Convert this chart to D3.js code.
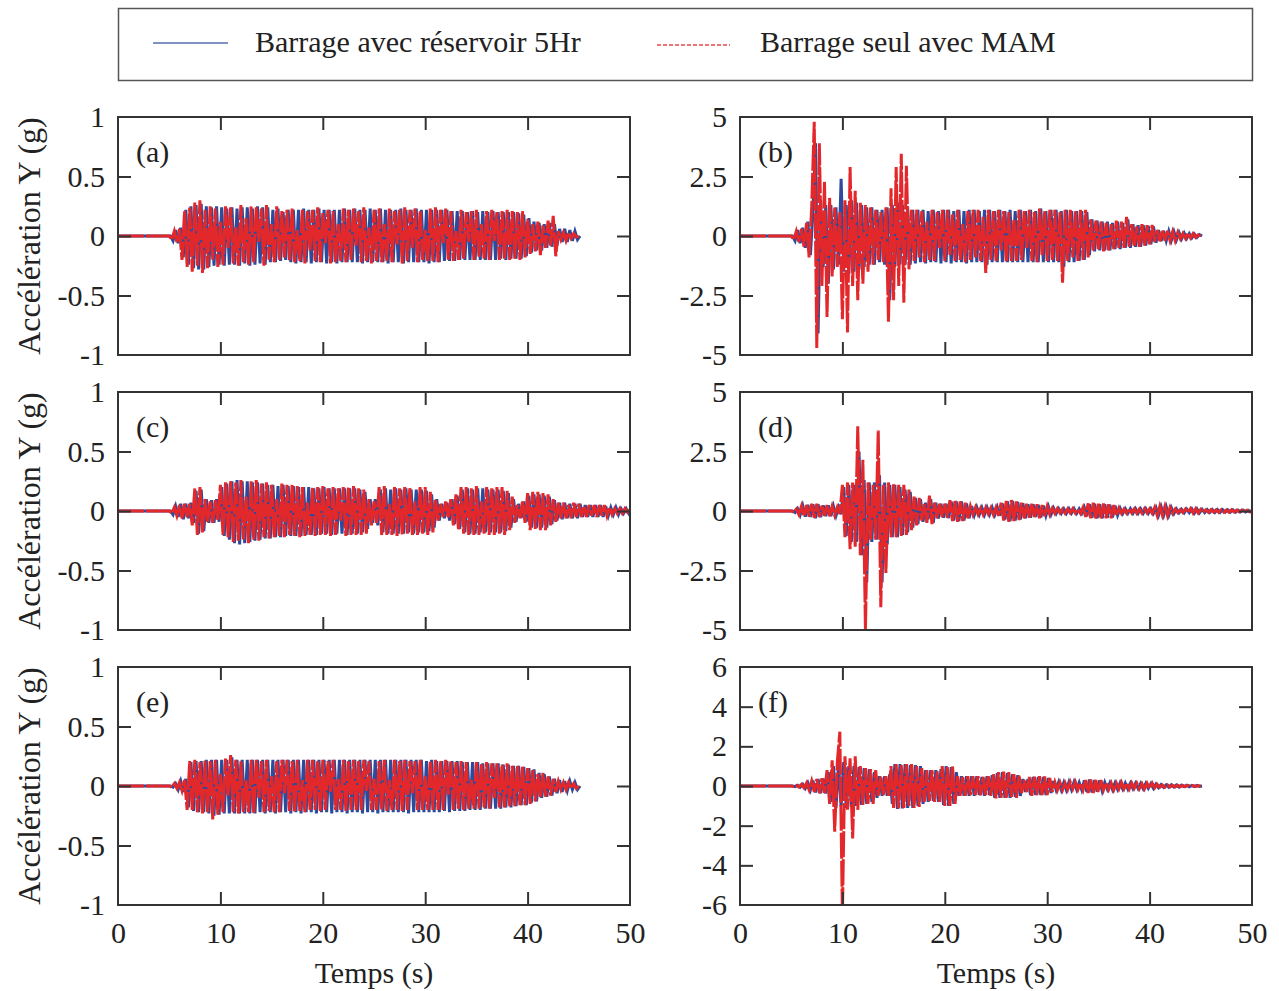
<!DOCTYPE html>
<html>
<head>
<meta charset="utf-8">
<script src="https://cdn.jsdelivr.net/npm/d3@7"></script>
<style>
  body { margin: 0; background: #fff; }
  svg { display: block; }
  text { font-family: "Liberation Serif", "Times New Roman", serif; fill: #222; }
</style>
</head>
<body>
<script>
// time axis of the records: flat zero until 5 s, then one peak every 0.25 s
var T0 = 5;
var DT = 0.25;
var BLUE_T0 = 5.125;

var xTicks = [0, 10, 20, 30, 40, 50];
var yTicksG = [-1, -0.5, 0, 0.5, 1];
var yTicksB = [-5, -2.5, 0, 2.5, 5];
var yTicksF = [-6, -4, -2, 0, 2, 4, 6];
var panelLabels = ['(a)', '(b)', '(c)', '(d)', '(e)', '(f)'];
var legendLabels = ['Barrage avec réservoir 5Hr', 'Barrage seul avec MAM'];

// (a) peaks, one row = 2 s starting at 5 s
var aBlue = [
  0, -0.04, 0.05, -0.06, 0.07, -0.18, 0.22, -0.24,
  0.25, -0.27, 0.26, -0.28, 0.27, -0.28, 0.25, -0.26,
  0.24, -0.25, 0.25, -0.24, 0.24, -0.25, 0.23, -0.24,
  0.24, -0.24, 0.23, -0.25, 0.24, -0.23, 0.24, -0.25,
  0.23, -0.24, 0.25, -0.23, 0.24, -0.24, 0.24, -0.22,
  0.22, -0.22, 0.23, -0.21, 0.2, -0.2, 0.22, -0.22,
  0.22, -0.23, 0.22, -0.22, 0.23, -0.22, 0.22, -0.23,
  0.22, -0.22, 0.23, -0.22, 0.22, -0.23, 0.22, -0.22,
  0.22, -0.23, 0.22, -0.22, 0.23, -0.22, 0.22, -0.22,
  0.23, -0.22, 0.22, -0.23, 0.22, -0.22, 0.23, -0.22,
  0.22, -0.22, 0.23, -0.22, 0.22, -0.23, 0.22, -0.22,
  0.22, -0.22, 0.23, -0.23, 0.22, -0.22, 0.22, -0.22,
  0.23, -0.22, 0.22, -0.22, 0.22, -0.23, 0.22, -0.22,
  0.22, -0.22, 0.22, -0.21, 0.22, -0.21, 0.21, -0.21,
  0.21, -0.2, 0.21, -0.2, 0.2, -0.2, 0.21, -0.2,
  0.2, -0.2, 0.21, -0.2, 0.2, -0.2, 0.21, -0.2,
  0.2, -0.19, 0.2, -0.2, 0.2, -0.19, 0.2, -0.19,
  0.19, -0.19, 0.18, -0.17, 0.15, -0.14, 0.12, -0.12,
  0.11, -0.12, 0.1, -0.1, 0.11, -0.09, 0.1, -0.08,
  0.06, -0.05, 0.06, -0.05, 0.05, -0.04, 0.04, -0.03,
  0
];
var aRed = [
  0, -0.03, 0.04, -0.05, 0.06, -0.2, 0.21, -0.26,
  0.24, -0.3, 0.28, -0.25, 0.3, -0.31, 0.22, -0.27,
  0.25, -0.2, 0.23, -0.26, 0.12, -0.24, 0.25, -0.1,
  0.24, -0.23, 0.08, -0.25, 0.26, -0.22, 0.15, -0.24,
  0.25, -0.22, 0.24, -0.05, 0.23, -0.25, 0.26, -0.2,
  0.1, -0.22, 0.25, -0.2, 0.21, -0.18, 0.22, -0.21,
  0.23, -0.22, 0.05, -0.21, 0.22, -0.23, 0.21, -0.12,
  0.22, -0.21, 0.24, -0.22, 0.2, -0.06, 0.22, -0.23,
  0.21, -0.22, 0.1, -0.21, 0.23, -0.22, 0.22, -0.2,
  0.23, -0.08, 0.21, -0.22, 0.24, -0.21, 0.07, -0.23,
  0.22, -0.21, 0.23, -0.22, 0.1, -0.21, 0.23, -0.22,
  0.21, -0.07, 0.22, -0.23, 0.24, -0.21, 0.22, -0.1,
  0.23, -0.22, 0.21, -0.2, 0.05, -0.22, 0.23, -0.21,
  0.24, -0.22, 0.22, -0.06, 0.23, -0.2, 0.21, -0.21,
  0.04, -0.2, 0.22, -0.19, 0.2, -0.05, 0.21, -0.2,
  0.22, -0.18, 0.1, -0.19, 0.21, -0.2, 0.22, -0.04,
  0.2, -0.2, 0.21, -0.19, 0.22, -0.2, 0.21, -0.19,
  0.2, -0.2, 0.21, -0.18, 0.14, -0.15, 0.1, -0.13,
  0.12, -0.16, 0.09, -0.1, 0.13, -0.08, 0.17, -0.17,
  0.04, -0.03, 0.03, -0.04, 0.03, -0.02, 0.02, -0.01,
  0
];

// (b)
var bBlue = [
  0, -0.2, 0.25, -0.3, 0.35, -0.5, 0.6, -0.8,
  1.0, 3.9, -4.1, 1.5, -1.3, 1.3, -2.0, 1.3,
  -1.4, 1.2, -1.2, 2.4, -1.5, 1.3, -1.6, 1.5,
  -1.5, 1.4, -1.4, 1.3, -1.3, 1.2, -1.2, 1.2,
  -1.2, 1.1, -1.1, 1.1, -1.2, 1.2, -2.7, 1.3,
  -1.3, 1.4, -1.2, 1.3, -1.2, 1.2, -1.2, 1.1,
  -1.15, 1.1, -1.1, 1.1, -1.15, 1.05, -1.1, 1.1,
  -1.1, 1.05, -1.15, 1.1, -1.1, 1.1, -1.15, 1.05,
  -1.1, 1.1, -1.1, 1.05, -1.15, 1.1, -1.1, 1.1,
  -1.1, 1.05, -1.1, 1.1, -1.2, 1.1, -1.1, 1.05,
  -1.1, 1.1, -1.1, 1.05, -1.1, 1.1, -1.1, 1.05,
  -1.1, 1.1, -1.1, 1.05, -1.1, 1.1, -1.1, 1.05,
  -1.1, 1.15, -1.1, 1.05, -1.1, 1.1, -1.1, 1.1,
  -1.1, 1.05, -1.3, 1.1, -1.1, 1.05, -1.1, 1.05,
  -1.05, 1.05, -1.0, 1.0, -0.8, 0.7, -0.65, 0.65,
  -0.6, 0.6, -0.6, 0.6, -0.6, 0.55, -0.55, 0.6,
  -0.55, 0.55, -0.5, 0.7, -0.5, 0.5, -0.45, 0.45,
  -0.45, 0.45, -0.4, 0.42, -0.35, 0.4, -0.28, 0.25,
  -0.22, 0.22, -0.2, 0.2, -0.18, 0.18, -0.16, 0.15,
  -0.12, 0.12, -0.1, 0.1, -0.08, 0.08, -0.06, 0.06,
  0
];
var bRed = [
  0, -0.15, 0.2, -0.25, 0.3, -0.45, 0.55, -0.9,
  1.2, 4.8, -4.7, 3.9, -2.1, 2.3, -3.4, 1.6,
  -1.7, 1.2, -1.3, 1.0, -3.5, 1.5, -4.05, 2.9,
  -2.1, 1.9, -2.7, 1.4, -2.0, 1.3, -1.5, 1.2,
  -1.2, 1.1, -1.0, 1.0, -1.1, 1.2, -3.6, 2.0,
  -2.7, 2.9, -2.1, 3.45, -2.8, 2.95, -1.4, 1.1,
  -1.05, 1.1, -0.9, 1.05, -1.1, 0.6, -1.0, 1.1,
  -1.05, 1.0, -0.5, 1.1, -1.05, 1.1, -0.8, 0.9,
  -1.05, 1.1, -1.0, 0.5, -1.1, 1.05, -1.0, 1.1,
  -0.9, 1.1, -1.05, 0.8, -1.55, 1.1, -1.0, 1.05,
  -1.05, 1.1, -0.6, 1.05, -1.1, 1.0, -1.05, 0.7,
  -1.05, 1.1, -1.0, 1.05, -0.5, 1.1, -1.05, 1.0,
  -1.1, 1.15, -0.8, 1.05, -1.05, 1.1, -1.0, 1.1,
  -1.05, 1.0, -1.96, 1.1, -1.05, 1.1, -0.9, 1.05,
  -1.05, 1.1, -1.0, 1.1, -0.9, 0.7, -0.6, 0.65,
  -0.55, 0.6, -0.65, 0.55, -0.6, 0.5, -0.55, 0.65,
  -0.5, 0.6, -0.5, 0.8, -0.45, 0.5, -0.45, 0.4,
  -0.45, 0.5, -0.4, 0.45, -0.35, 0.46, -0.25, 0.25,
  -0.22, 0.25, -0.2, 0.22, -0.2, 0.18, -0.2, 0.15,
  -0.12, 0.1, -0.1, 0.12, -0.08, 0.1, -0.06, 0.05,
  0
];

// (c) runs to 50 s
var cBlue = [
  0, -0.03, 0.04, -0.05, 0.06, -0.07, 0.06, -0.06,
  0.07, -0.1, 0.17, -0.19, 0.18, -0.17, 0.1, -0.1,
  0.09, -0.1, 0.1, -0.09, 0.2, -0.21, 0.23, -0.24,
  0.25, -0.27, 0.26, -0.28, 0.25, -0.27, 0.25, -0.26,
  0.24, -0.25, 0.24, -0.24, 0.23, -0.23, 0.22, -0.23,
  0.22, -0.22, 0.21, -0.22, 0.22, -0.21, 0.21, -0.21,
  0.21, -0.21, 0.2, -0.21, 0.2, -0.2, 0.2, -0.2,
  0.19, -0.2, 0.19, -0.19, 0.2, -0.19, 0.19, -0.2,
  0.19, -0.19, 0.19, -0.19, 0.19, -0.2, 0.19, -0.19,
  0.19, -0.19, 0.18, -0.18, 0.16, -0.15, 0.1, -0.1,
  0.1, -0.12, 0.18, -0.18, 0.19, -0.19, 0.18, -0.19,
  0.19, -0.19, 0.18, -0.19, 0.19, -0.18, 0.18, -0.19,
  0.18, -0.18, 0.18, -0.18, 0.17, -0.17, 0.14, -0.14,
  0.1, -0.08, 0.06, -0.06, 0.07, -0.08, 0.1, -0.11,
  0.13, -0.15, 0.18, -0.18, 0.19, -0.19, 0.18, -0.19,
  0.19, -0.18, 0.19, -0.18, 0.18, -0.18, 0.18, -0.18,
  0.18, -0.18, 0.17, -0.17, 0.15, -0.14, 0.1, -0.09,
  0.06, -0.06, 0.08, -0.09, 0.13, -0.14, 0.14, -0.14,
  0.14, -0.14, 0.13, -0.14, 0.12, -0.11, 0.09, -0.08,
  0.07, -0.07, 0.07, -0.06, 0.06, -0.06, 0.06, -0.06,
  0.06, -0.05, 0.05, -0.05, 0.05, -0.05, 0.05, -0.05,
  0.05, -0.05, 0.04, -0.04, 0.03, -0.03, 0.03, -0.03,
  0.02, -0.02, 0.02, -0.02, 0.02, -0.01, 0.01, -0.01,
  0
];
var cRed = [
  0, -0.02, 0.03, -0.04, 0.05, -0.06, 0.06, -0.05,
  0.06, -0.12, 0.19, -0.2, 0.2, -0.18, 0.1, -0.09,
  0.08, -0.1, 0.09, -0.08, 0.22, -0.2, 0.24, -0.22,
  0.25, -0.26, 0.24, -0.25, 0.26, -0.24, 0.12, -0.27,
  0.25, -0.24, 0.26, -0.25, 0.23, -0.22, 0.24, -0.23,
  0.22, -0.22, 0.1, -0.21, 0.23, -0.22, 0.22, -0.2,
  0.22, -0.21, 0.21, -0.22, 0.2, -0.21, 0.07, -0.2,
  0.2, -0.21, 0.2, -0.2, 0.21, -0.2, 0.19, -0.21,
  0.2, -0.2, 0.19, -0.08, 0.2, -0.21, 0.2, -0.2,
  0.21, -0.2, 0.19, -0.2, 0.18, -0.19, 0.1, -0.12,
  0.08, -0.1, 0.2, -0.2, 0.21, -0.2, 0.06, -0.2,
  0.2, -0.21, 0.19, -0.2, 0.2, -0.19, 0.2, -0.2,
  0.08, -0.2, 0.2, -0.19, 0.2, -0.2, 0.16, -0.18,
  0.1, -0.08, 0.06, -0.05, 0.08, -0.06, 0.1, -0.12,
  0.14, -0.16, 0.2, -0.19, 0.2, -0.2, 0.19, -0.2,
  0.21, -0.2, 0.08, -0.19, 0.2, -0.2, 0.19, -0.2,
  0.2, -0.19, 0.2, -0.2, 0.17, -0.16, 0.12, -0.1,
  0.05, -0.06, 0.08, -0.1, 0.15, -0.16, 0.16, -0.15,
  0.16, -0.16, 0.15, -0.16, 0.14, -0.12, 0.1, -0.09,
  0.07, -0.06, 0.07, -0.06, 0.05, -0.06, 0.07, -0.05,
  0.06, -0.05, 0.04, -0.05, 0.05, -0.04, 0.05, -0.05,
  0.05, -0.04, 0.05, -0.04, 0.03, -0.03, 0.02, -0.02,
  0.02, -0.02, 0.02, -0.01, 0.01, -0.01, 0.01, -0.01,
  0
];

// (d) runs to 50 s
var dBlue = [
  0, -0.06, 0.1, -0.16, 0.22, -0.24, 0.26, -0.25,
  0.28, -0.3, 0.28, -0.26, 0.24, -0.22, 0.24, -0.22,
  0.2, -0.2, 0.16, -0.14, 1.0, -1.05, 1.1, -1.3,
  1.1, -1.3, 2.5, -1.86, 1.3, -3.0, 1.2, -1.3,
  1.2, -1.2, 1.5, -3.0, 1.2, -1.4, 1.1, -1.1,
  1.1, -1.1, 1.0, -1.0, 0.9, -0.9, 0.8, -0.7,
  0.55, -0.55, 0.5, -0.45, 0.35, -0.35, 0.5, -0.5,
  0.35, -0.32, 0.3, -0.28, 0.3, -0.3, 0.4, -0.4,
  0.4, -0.42, 0.4, -0.4, 0.32, -0.3, 0.2, -0.18,
  0.16, -0.15, 0.14, -0.16, 0.15, -0.14, 0.15, -0.16,
  0.16, -0.2, 0.32, -0.36, 0.4, -0.42, 0.42, -0.4,
  0.38, -0.36, 0.33, -0.3, 0.28, -0.28, 0.28, -0.25,
  0.26, -0.27, 0.23, -0.2, 0.18, -0.15, 0.12, -0.11,
  0.1, -0.1, 0.09, -0.1, 0.1, -0.09, 0.1, -0.1,
  0.09, -0.1, 0.15, -0.22, 0.28, -0.28, 0.3, -0.3,
  0.28, -0.3, 0.28, -0.28, 0.26, -0.27, 0.22, -0.18,
  0.12, -0.11, 0.1, -0.1, 0.1, -0.1, 0.1, -0.1,
  0.09, -0.1, 0.1, -0.1, 0.1, -0.1, 0.14, -0.18,
  0.18, -0.18, 0.18, -0.18, 0.14, -0.11, 0.09, -0.08,
  0.07, -0.08, 0.08, -0.07, 0.09, -0.09, 0.09, -0.08,
  0.07, -0.07, 0.06, -0.06, 0.06, -0.06, 0.06, -0.06,
  0.06, -0.05, 0.05, -0.05, 0.05, -0.05, 0.04, -0.04,
  0.04, -0.04, 0.03, -0.03, 0.03, -0.02, 0.02, -0.02,
  0
];
var dRed = [
  0, -0.05, 0.08, -0.15, 0.2, -0.22, 0.25, -0.24,
  0.3, -0.28, 0.3, -0.25, 0.22, -0.2, 0.25, -0.22,
  0.2, -0.18, 0.15, -0.12, 1.1, -1.1, 1.2, -1.6,
  1.2, -1.5, 3.56, -1.86, 2.15, -5.0, 1.2, -1.2,
  1.1, -1.2, 3.38, -4.04, 1.1, -2.6, 1.2, -1.1,
  1.15, -1.1, 1.1, -1.05, 1.1, -1.0, 0.9, -0.8,
  0.6, -0.6, 0.55, -0.4, 0.3, -0.5, 0.65, -0.55,
  0.35, -0.3, 0.3, -0.25, 0.3, -0.28, 0.45, -0.42,
  0.45, -0.45, 0.4, -0.42, 0.35, -0.3, 0.2, -0.15,
  0.15, -0.14, 0.12, -0.15, 0.14, -0.12, 0.13, -0.15,
  0.15, -0.2, 0.35, -0.4, 0.42, -0.45, 0.46, -0.42,
  0.4, -0.38, 0.35, -0.3, 0.3, -0.28, 0.3, -0.25,
  0.28, -0.3, 0.25, -0.22, 0.2, -0.15, 0.12, -0.1,
  0.1, -0.08, 0.08, -0.1, 0.09, -0.08, 0.1, -0.09,
  0.08, -0.1, 0.15, -0.25, 0.32, -0.3, 0.35, -0.32,
  0.3, -0.33, 0.32, -0.3, 0.28, -0.3, 0.25, -0.2,
  0.12, -0.1, 0.08, -0.09, 0.1, -0.08, 0.09, -0.1,
  0.08, -0.09, 0.1, -0.08, 0.09, -0.1, 0.15, -0.2,
  0.2, -0.18, 0.2, -0.2, 0.15, -0.1, 0.08, -0.07,
  0.06, -0.07, 0.08, -0.06, 0.1, -0.09, 0.1, -0.08,
  0.07, -0.06, 0.05, -0.06, 0.06, -0.05, 0.05, -0.06,
  0.06, -0.05, 0.04, -0.05, 0.05, -0.04, 0.04, -0.04,
  0.04, -0.03, 0.03, -0.03, 0.02, -0.02, 0.02, -0.01,
  0
];

// (e)
var eBlue = [
  0, -0.01, 0.02, -0.03, 0.04, -0.05, 0.06, -0.18,
  0.2, -0.21, 0.21, -0.22, 0.21, -0.22, 0.22, -0.23,
  0.22, -0.25, 0.22, -0.24, 0.22, -0.23, 0.22, -0.23,
  0.24, -0.23, 0.22, -0.23, 0.22, -0.23, 0.22, -0.23,
  0.22, -0.23, 0.22, -0.22, 0.22, -0.23, 0.22, -0.22,
  0.22, -0.23, 0.22, -0.22, 0.22, -0.22, 0.22, -0.23,
  0.22, -0.22, 0.22, -0.23, 0.22, -0.22, 0.22, -0.22,
  0.22, -0.23, 0.22, -0.22, 0.22, -0.22, 0.22, -0.23,
  0.22, -0.22, 0.22, -0.22, 0.22, -0.23, 0.22, -0.22,
  0.22, -0.22, 0.22, -0.23, 0.22, -0.22, 0.22, -0.22,
  0.22, -0.23, 0.22, -0.22, 0.22, -0.22, 0.22, -0.22,
  0.22, -0.22, 0.22, -0.22, 0.22, -0.23, 0.22, -0.22,
  0.22, -0.22, 0.22, -0.22, 0.21, -0.22, 0.22, -0.22,
  0.21, -0.22, 0.21, -0.21, 0.21, -0.22, 0.21, -0.21,
  0.21, -0.21, 0.2, -0.21, 0.2, -0.2, 0.2, -0.2,
  0.2, -0.2, 0.19, -0.19, 0.19, -0.19, 0.19, -0.19,
  0.19, -0.19, 0.18, -0.18, 0.18, -0.18, 0.17, -0.17,
  0.17, -0.16, 0.16, -0.16, 0.15, -0.14, 0.14, -0.13,
  0.11, -0.1, 0.1, -0.09, 0.08, -0.08, 0.06, -0.06,
  0.05, -0.05, 0.04, -0.04, 0.04, -0.03, 0.03, -0.03,
  0
];
var eRed = [
  0, -0.01, 0.02, -0.02, 0.03, -0.04, 0.05, -0.2,
  0.21, -0.2, 0.22, -0.22, 0.2, -0.23, 0.22, -0.22,
  0.21, -0.28, 0.22, -0.24, 0.1, -0.22, 0.23, -0.08,
  0.26, -0.22, 0.22, -0.23, 0.21, -0.22, 0.05, -0.22,
  0.22, -0.23, 0.22, -0.1, 0.21, -0.22, 0.22, -0.21,
  0.08, -0.22, 0.21, -0.22, 0.22, -0.06, 0.22, -0.21,
  0.21, -0.22, 0.22, -0.21, 0.05, -0.22, 0.22, -0.2,
  0.22, -0.2, 0.21, -0.21, 0.22, -0.2, 0.21, -0.05,
  0.22, -0.2, 0.06, -0.2, 0.22, -0.21, 0.21, -0.2,
  0.22, -0.2, 0.21, -0.2, 0.22, -0.04, 0.21, -0.2,
  0.06, -0.2, 0.21, -0.2, 0.22, -0.21, 0.05, -0.2,
  0.22, -0.2, 0.21, -0.21, 0.22, -0.2, 0.21, -0.06,
  0.21, -0.2, 0.22, -0.2, 0.08, -0.2, 0.21, -0.2,
  0.22, -0.2, 0.21, -0.2, 0.22, -0.07, 0.21, -0.2,
  0.2, -0.19, 0.21, -0.2, 0.2, -0.19, 0.06, -0.19,
  0.2, -0.19, 0.19, -0.18, 0.2, -0.19, 0.19, -0.1,
  0.19, -0.18, 0.18, -0.18, 0.19, -0.17, 0.17, -0.17,
  0.17, -0.16, 0.16, -0.16, 0.15, -0.15, 0.14, -0.13,
  0.1, -0.1, 0.11, -0.09, 0.08, -0.08, 0.06, -0.05,
  0.04, -0.03, 0.03, -0.03, 0.03, -0.02, 0.02, -0.02,
  0
];

// (f)
var fBlue = [
  0, -0.03, 0.04, -0.06, 0.09, -0.12, 0.16, -0.2,
  0.28, -0.32, 0.35, -0.36, 0.38, -0.38, 0.7, -0.8,
  1.0, -1.1, 1.1, -1.0, 1.2, -1.1, 1.0, -1.05,
  1.0, -1.0, 0.95, -0.95, 0.9, -0.9, 0.85, -0.8,
  0.7, -0.6, 0.5, -0.5, 0.5, -0.5, 0.6, -0.9,
  1.1, -1.15, 1.1, -1.13, 1.1, -1.1, 1.05, -1.1,
  1.05, -1.0, 1.0, -0.9, 0.8, -0.8, 0.8, -0.75,
  0.8, -0.8, 0.85, -0.95, 1.0, -1.0, 0.95, -0.9,
  0.7, -0.5, 0.5, -0.5, 0.5, -0.5, 0.5, -0.5,
  0.5, -0.45, 0.45, -0.5, 0.5, -0.45, 0.55, -0.6,
  0.65, -0.6, 0.7, -0.6, 0.65, -0.6, 0.6, -0.55,
  0.55, -0.5, 0.35, -0.3, 0.35, -0.45, 0.45, -0.45,
  0.45, -0.45, 0.45, -0.45, 0.4, -0.35, 0.25, -0.2,
  0.2, -0.2, 0.18, -0.2, 0.2, -0.18, 0.2, -0.18,
  0.18, -0.2, 0.28, -0.3, 0.32, -0.32, 0.3, -0.28,
  0.28, -0.25, 0.18, -0.16, 0.16, -0.18, 0.16, -0.16,
  0.16, -0.15, 0.15, -0.15, 0.14, -0.14, 0.14, -0.13,
  0.13, -0.14, 0.13, -0.12, 0.12, -0.12, 0.1, -0.09,
  0.07, -0.07, 0.06, -0.06, 0.06, -0.05, 0.05, -0.05,
  0.05, -0.04, 0.04, -0.04, 0.03, -0.03, 0.03, -0.02,
  0
];
var fRed = [
  0, -0.02, 0.03, -0.05, 0.08, -0.1, 0.15, -0.2,
  0.25, -0.3, 0.35, -0.37, 0.39, -0.35, 0.8, -0.9,
  1.3, -2.3, 1.2, 2.74, -6.5, 1.5, -1.2, 1.4,
  -2.64, 1.5, -1.2, 1.0, -0.95, 0.9, -0.9, 0.85,
  -0.9, 0.8, -0.5, 0.5, -0.45, 0.5, -0.5, 1.0,
  -1.1, 1.1, -1.13, 1.05, -1.1, 1.1, -1.0, 1.1,
  -1.1, 1.0, -1.05, 0.9, -0.8, 0.8, -0.75, 0.8,
  -0.8, 0.75, -0.8, 1.0, -1.0, 0.95, -1.0, 1.0,
  -0.9, 0.5, -0.5, 0.45, -0.5, 0.5, -0.45, 0.5,
  -0.45, 0.5, -0.47, 0.45, -0.45, 0.5, -0.5, 0.6,
  -0.62, 0.7, -0.6, 0.72, -0.6, 0.7, -0.55, 0.6,
  -0.6, 0.55, -0.35, 0.3, -0.3, 0.45, -0.5, 0.47,
  -0.45, 0.5, -0.45, 0.48, -0.45, 0.4, -0.3, 0.2,
  -0.2, 0.18, -0.2, 0.15, -0.18, 0.2, -0.15, 0.2,
  -0.18, 0.15, -0.2, 0.3, -0.35, 0.32, -0.35, 0.3,
  -0.3, 0.3, -0.2, 0.15, -0.18, 0.15, -0.2, 0.15,
  -0.15, 0.18, -0.15, 0.14, -0.16, 0.15, -0.12, 0.15,
  -0.14, 0.12, -0.15, 0.14, -0.12, 0.15, -0.1, 0.08,
  -0.06, 0.05, -0.06, 0.05, -0.05, 0.04, -0.05, 0.04,
  -0.04, 0.03, -0.03, 0.03, -0.02, 0.02, -0.02, 0.01,
  0
];

var blueColor = '#2c4b9c';
var redColor = '#e3282c';
var axisColor = '#333';
var serif = '"Liberation Serif", "Times New Roman", serif';

var width = 1279, height = 991;
var plotW = 512, plotH = 238;
var colX = [118, 740];
var rowY = [117, 392, 667];

var panels = [
  { label: panelLabels[0], col: 0, row: 0, yTicks: yTicksG, blue: aBlue, red: aRed },
  { label: panelLabels[1], col: 1, row: 0, yTicks: yTicksB, blue: bBlue, red: bRed },
  { label: panelLabels[2], col: 0, row: 1, yTicks: yTicksG, blue: cBlue, red: cRed },
  { label: panelLabels[3], col: 1, row: 1, yTicks: yTicksB, blue: dBlue, red: dRed },
  { label: panelLabels[4], col: 0, row: 2, yTicks: yTicksG, blue: eBlue, red: eRed },
  { label: panelLabels[5], col: 1, row: 2, yTicks: yTicksF, blue: fBlue, red: fRed }
];

var svg = d3.select('body').append('svg')
  .attr('width', width)
  .attr('height', height);

// legend
var legend = svg.append('g');
legend.append('rect')
  .attr('x', 118.5).attr('y', 8.5)
  .attr('width', 1134).attr('height', 72)
  .attr('fill', 'none').attr('stroke', '#555').attr('stroke-width', 1.5);
legend.append('line')
  .attr('x1', 153).attr('x2', 228).attr('y1', 43).attr('y2', 43)
  .attr('stroke', blueColor).attr('stroke-width', 1.3).attr('opacity', 0.8);
legend.append('text')
  .attr('x', 255).attr('y', 52)
  .style('font-size', '30px')
  .text(legendLabels[0]);
legend.append('line')
  .attr('x1', 657).attr('x2', 730).attr('y1', 45).attr('y2', 45)
  .attr('stroke', redColor).attr('stroke-width', 1.3)
  .attr('stroke-dasharray', '4,2').attr('opacity', 0.85);
legend.append('text')
  .attr('x', 760).attr('y', 52)
  .style('font-size', '30px')
  .text(legendLabels[1]);

var fmt = function(d) { return String(d); };

var toPoints = function(values, t0) {
  return [[0, 0]].concat(values.map(function(v, i) { return [t0 + i * DT, v]; }));
};

panels.forEach(function(p, k) {
  var x0 = colX[p.col], y0 = rowY[p.row];
  var yExt = d3.extent(p.yTicks);
  var x = d3.scaleLinear().domain([0, 50]).range([0, plotW]);
  var y = d3.scaleLinear().domain(yExt).range([plotH, 0]);

  var g = svg.append('g').attr('transform', 'translate(' + x0 + ',' + y0 + ')');

  var clipId = 'clip-' + k;
  g.append('clipPath').attr('id', clipId)
    .append('rect').attr('width', plotW).attr('height', plotH);

  var line = d3.line()
    .x(function(d) { return x(d[0]); })
    .y(function(d) { return y(d[1]); });

  var lines = g.append('g').attr('clip-path', 'url(#' + clipId + ')');
  lines.append('path')
    .datum(toPoints(p.blue, BLUE_T0))
    .attr('d', line)
    .attr('fill', 'none')
    .attr('stroke', blueColor)
    .attr('stroke-width', 3);
  lines.append('path')
    .datum(toPoints(p.red, T0))
    .attr('d', line)
    .attr('fill', 'none')
    .attr('stroke', redColor)
    .attr('stroke-width', 3)
    .attr('stroke-dasharray', '26,2');

  // inward ticks on all four sides
  var inner = p.yTicks.slice(1, -1);
  var innerX = xTicks.slice(1, -1);

  var left = g.append('g').call(d3.axisLeft(y).tickValues(p.yTicks).tickFormat(fmt)
    .tickSizeInner(-13).tickSizeOuter(0).tickPadding(13));
  left.selectAll('.tick line').filter(function(d) { return inner.indexOf(d) < 0; }).remove();
  var right = g.append('g').attr('transform', 'translate(' + plotW + ',0)')
    .call(d3.axisRight(y).tickValues(inner).tickFormat('').tickSizeInner(-13).tickSizeOuter(0));
  var top = g.append('g')
    .call(d3.axisTop(x).tickValues(innerX).tickFormat('').tickSizeInner(-13).tickSizeOuter(0));
  var bottom = g.append('g').attr('transform', 'translate(0,' + plotH + ')')
    .call(d3.axisBottom(x).tickValues(p.row === 2 ? xTicks : innerX)
      .tickFormat(p.row === 2 ? fmt : '')
      .tickSizeInner(-13).tickSizeOuter(0).tickPadding(17));
  bottom.selectAll('.tick line').filter(function(d) { return innerX.indexOf(d) < 0; }).remove();

  [left, right, top, bottom].forEach(function(a) {
    a.select('.domain').remove();
    a.selectAll('.tick line').attr('stroke', axisColor).attr('stroke-width', 2);
    a.selectAll('.tick text')
      .style('font-family', serif)
      .style('font-size', '30px')
      .attr('fill', '#222');
  });

  g.append('rect')
    .attr('width', plotW).attr('height', plotH)
    .attr('fill', 'none').attr('stroke', axisColor).attr('stroke-width', 2);

  g.append('text')
    .attr('x', 18).attr('y', 45)
    .style('font-size', '30px')
    .text(p.label);

  if (p.col === 0) {
    g.append('text')
      .attr('transform', 'translate(' + (40 - x0) + ',' + (plotH / 2) + ') rotate(-90)')
      .attr('text-anchor', 'middle')
      .style('font-size', '32px')
      .text('Accélération Y (g)');
  }
  if (p.row === 2) {
    g.append('text')
      .attr('x', plotW / 2).attr('y', plotH + 78)
      .attr('text-anchor', 'middle')
      .style('font-size', '30px')
      .text('Temps (s)');
  }
});
</script>
</body>
</html>
